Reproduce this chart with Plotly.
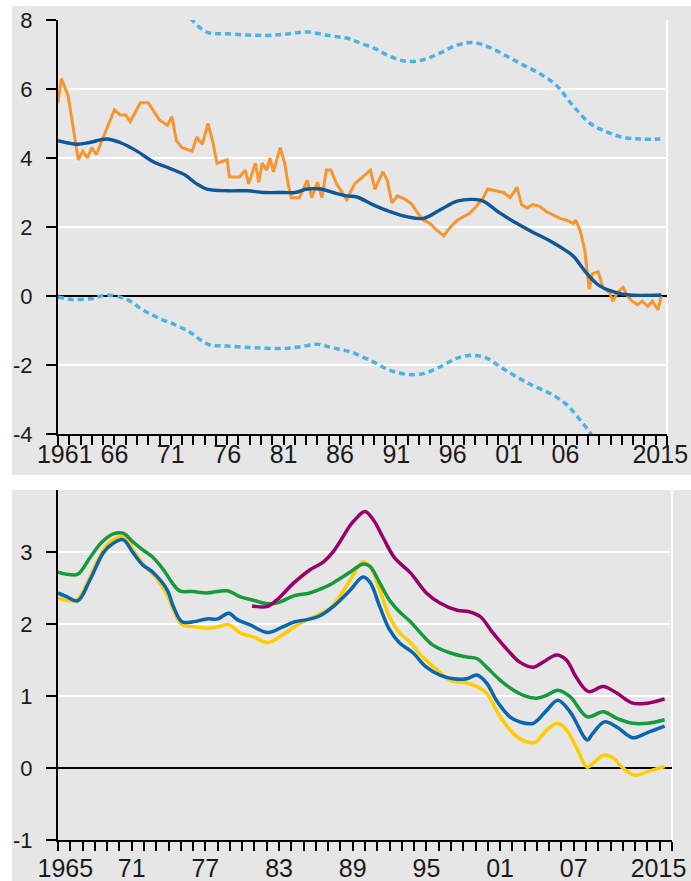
import plotly.graph_objects as go

# ---------------- Top panel data ----------------
orange_x = [1961.0, 1961.3, 1961.9, 1962.8, 1963.2, 1963.6, 1964.0, 1964.4, 1964.7, 1965.0,
            1966.0, 1966.5, 1967.0, 1967.4, 1968.3, 1969.0, 1969.4, 1970.0, 1970.7, 1971.1,
            1971.5, 1972.0, 1972.9, 1973.3, 1973.8, 1974.3, 1974.7, 1975.1, 1976.0, 1976.2,
            1977.1, 1977.6, 1977.9, 1978.5, 1978.8, 1979.1, 1979.5, 1979.8, 1980.1, 1980.7,
            1981.1, 1981.4, 1981.7, 1982.4, 1983.1, 1983.5, 1984.0, 1984.4, 1984.8, 1985.2,
            1985.7, 1986.6, 1987.3, 1987.7, 1988.2, 1988.7, 1989.1, 1989.8, 1990.2, 1990.6,
            1991.1, 1991.8, 1992.4, 1992.9, 1993.4, 1994.0, 1994.6, 1995.2, 1995.8, 1996.4,
            1997.0, 1997.5, 1998.1, 1998.7, 1999.1, 1999.9, 2000.5, 2001.1, 2001.7, 2002.1,
            2002.6, 2003.1, 2003.7, 2004.3, 2004.9, 2005.5, 2006.1, 2006.7, 2006.9, 2007.3,
            2007.7, 2007.9, 2008.1, 2008.4, 2008.9, 2009.3, 2009.9, 2010.2, 2010.6, 2011.1,
            2011.5, 2011.9, 2012.4, 2012.8, 2013.3, 2013.7, 2014.2, 2014.5]
orange_y = [5.6, 6.3, 5.8, 3.95, 4.2, 4.0, 4.3, 4.1, 4.35, 4.6,
            5.4, 5.25, 5.25, 5.05, 5.6, 5.6, 5.4, 5.1, 4.95, 5.2,
            4.5, 4.3, 4.2, 4.6, 4.4, 5.0, 4.5, 3.85, 3.95, 3.45,
            3.45, 3.65, 3.25, 3.85, 3.3, 3.85, 3.65, 4.0, 3.6, 4.3,
            3.85, 3.25, 2.85, 2.85, 3.35, 2.85, 3.3, 2.85, 3.65, 3.65,
            3.25, 2.8, 3.25, 3.35, 3.5, 3.65, 3.1, 3.6, 3.35, 2.7,
            2.9, 2.8, 2.65, 2.4, 2.2, 2.1, 1.9, 1.75, 2.0, 2.2,
            2.3, 2.4, 2.6, 2.85, 3.1, 3.05, 3.0, 2.85, 3.15, 2.65,
            2.55, 2.65, 2.6, 2.45, 2.35, 2.25, 2.2, 2.1, 2.2, 1.9,
            1.35, 0.75, 0.2, 0.65, 0.7, 0.25, 0.1, -0.15, 0.1, 0.25,
            0.0, -0.15, -0.25, -0.15, -0.3, -0.15, -0.4, 0.0]

trend_x = [1961, 1962.7, 1963.8, 1965.3, 1966.5, 1968, 1969.4, 1970.9, 1972.3, 1973.3,
           1974.2, 1976, 1977.8, 1979.2, 1981, 1982, 1983.1, 1984.3, 1985.4, 1986.6,
           1987.5, 1988.9, 1990.4, 1991.9, 1993.4, 1994.9, 1996.4, 1997.8, 1998.7, 2000.2,
           2001.7, 2003.1, 2004.6, 2006.1, 2006.7, 2007.9, 2009, 2010.5, 2011.7, 2014.5]
trend_y = [4.5, 4.4, 4.45, 4.55, 4.45, 4.2, 3.9, 3.7, 3.5, 3.25,
           3.1, 3.05, 3.05, 3.0, 3.0, 3.0, 3.1, 3.1, 3.0, 2.9,
           2.87, 2.65, 2.45, 2.3, 2.25, 2.5, 2.75, 2.8, 2.75, 2.4,
           2.1, 1.85, 1.6, 1.3, 1.15, 0.65, 0.3, 0.1, 0.03, 0.03]

upper_x = [1972.3, 1972.9, 1974.2, 1976, 1979.5, 1981.5, 1983.1, 1985, 1986.9, 1987.5,
           1988.9, 1990.4, 1991.9, 1993.4, 1994.9, 1996.4, 1997.8, 1999.3, 2000.8, 2002.2,
           2003.7, 2005.2, 2006.7, 2008.2, 2009.7, 2011.1, 2012.6, 2014.4]
upper_y = [8.3, 8.0, 7.65, 7.6, 7.55, 7.6, 7.65, 7.55, 7.45, 7.37,
           7.2, 6.95, 6.8, 6.85, 7.05, 7.27, 7.35, 7.2, 6.95, 6.7,
           6.45, 6.1, 5.5, 5.0, 4.75, 4.6, 4.55, 4.55]

lower_x = [1961, 1962.3, 1964.1, 1965.3, 1967.1, 1968.5, 1970, 1971.5, 1972.7, 1973.6,
           1974.5, 1976, 1978.3, 1981, 1982.5, 1984, 1985.3, 1986.9, 1988.9, 1990.4,
           1991.9, 1993.4, 1994.9, 1996.4, 1997.8, 1999, 2000.2, 2001.7, 2003.1, 2004.6,
           2006.1, 2007.3, 2008.2, 2008.8]
lower_y = [-0.03, -0.1, -0.07, 0.03, -0.1, -0.4, -0.65, -0.85, -1.05, -1.27,
           -1.42, -1.45, -1.5, -1.52, -1.47, -1.4, -1.5, -1.62, -1.9, -2.15,
           -2.27, -2.25, -2.05, -1.8, -1.72, -1.8, -2.05, -2.35, -2.6, -2.82,
           -3.15, -3.6, -3.97, -4.3]

top_tick_vals = [1961.6, 1966, 1971, 1976, 1981, 1986, 1991, 1996, 2001, 2006, 2014.4]
top_tick_text = ["1961", "66", "71", "76", "81", "86", "91", "96", "01", "06", "2015"]
top_y_ticks = [-4, -2, 0, 2, 4, 6, 8]
top_y_text = ["-4", "-2", "0", "2", "4", "6", "8"]

# ---------------- Bottom panel data ----------------
green_x = [1965, 1965.7, 1966.6, 1967.6, 1968.6, 1969.5, 1970.3, 1971.1, 1971.9, 1972.7,
           1973.6, 1974.3, 1974.9, 1976, 1977.1, 1978.8, 1979.8, 1980.9, 1982.1, 1983,
           1984.2, 1985.5, 1986.6, 1987.4, 1988.8, 1989.8, 1990.4, 1991.2, 1992, 1992.8,
           1993.7, 1994.5, 1995.5, 1996.9, 1998.3, 1999.1, 1999.9, 2001, 2002.1, 2003.2,
           2004, 2004.8, 2005.7, 2006.7, 2008.1, 2009.4, 2010.5, 2011.8, 2013, 2014.4]
green_y = [2.72, 2.69, 2.69, 2.92, 3.14, 3.25, 3.26, 3.14, 3.03, 2.93,
           2.75, 2.57, 2.46, 2.45, 2.43, 2.46, 2.38, 2.33, 2.28, 2.3,
           2.39, 2.43, 2.5, 2.57, 2.72, 2.83, 2.8, 2.57, 2.33, 2.17,
           2.03, 1.88, 1.71, 1.6, 1.54, 1.52, 1.4, 1.22, 1.08, 0.99,
           0.97, 1.01, 1.08, 0.99, 0.71, 0.78, 0.69, 0.62, 0.62, 0.67]

yellow_x = [1965, 1966.5, 1967.6, 1968.7, 1969.5, 1970.5, 1971.1, 1972.2, 1973, 1973.9,
            1974.4, 1975.1, 1976.2, 1977.2, 1978, 1978.9, 1979.8, 1980.9, 1982.1, 1983.3,
            1984.5, 1985.8, 1986.7, 1987.4, 1988.8, 1989.8, 1990.4, 1991.2, 1992, 1992.8,
            1993.7, 1994.7, 1995.9, 1996.9, 1998.3, 1999.1, 1999.9, 2000.7, 2001.6, 2002.4,
            2003.2, 2003.9, 2004.8, 2005.7, 2006.4, 2007.2, 2008.1, 2008.6, 2009.5, 2010.2,
            2011, 2012, 2013, 2014.4]
yellow_y = [2.36, 2.33, 2.65, 3.03, 3.17, 3.21, 3.03, 2.78, 2.64, 2.4,
            2.19, 1.99, 1.96, 1.94, 1.96, 1.99, 1.88, 1.82, 1.74, 1.85,
            1.99, 2.1, 2.17, 2.26, 2.61, 2.86, 2.8, 2.47, 2.1, 1.88,
            1.74, 1.54, 1.36, 1.22, 1.18, 1.13, 1.04, 0.8, 0.57, 0.43,
            0.36, 0.36, 0.53, 0.62, 0.53, 0.29, 0.01, 0.07, 0.18, 0.14,
            0.0, -0.1, -0.05, 0.02]

blue_x = [1965, 1965.7, 1966.6, 1967.6, 1968.7, 1969.5, 1970.3, 1971.1, 1971.9, 1972.7,
          1973.9, 1974.4, 1975.1, 1976, 1977.1, 1978, 1978.9, 1979.6, 1980.6, 1982.1,
          1983.3, 1984.3, 1985.3, 1986.3, 1987.4, 1988.8, 1989.8, 1990.4, 1991.2, 1992,
          1992.8, 1993.9, 1995, 1996.1, 1997.2, 1998.3, 1999.1, 1999.9, 2000.7, 2001.8,
          2002.6, 2003.7, 2004.8, 2005.7, 2006.7, 2008.1, 2008.5, 2009.5, 2010.5, 2011.8,
          2013, 2014.4]
blue_y = [2.43, 2.38, 2.32, 2.61, 2.99, 3.12, 3.17, 2.99, 2.82, 2.72,
          2.47, 2.24, 2.03, 2.03, 2.07, 2.07, 2.15, 2.06, 1.99, 1.88,
          1.96, 2.03, 2.06, 2.11, 2.24, 2.47, 2.65, 2.58, 2.24, 1.92,
          1.74, 1.6, 1.4, 1.29, 1.24, 1.24, 1.29, 1.18, 0.94, 0.71,
          0.64, 0.62, 0.8, 0.94, 0.78, 0.39, 0.47, 0.64, 0.57, 0.42,
          0.49, 0.58]

purple_x = [1980.8, 1982, 1982.8, 1984.2, 1985.5, 1986.6, 1987.4, 1988.8, 1989.2, 1990,
            1990.7, 1991.5, 1992.4, 1993.7, 1995, 1996.1, 1997.5, 1998.5, 1999.4, 2000.4,
            2001.6, 2002.6, 2003.7, 2004.5, 2005.6, 2006.4, 2007.2, 2008.2, 2009.4, 2010.5,
            2011.8, 2013, 2014.4]
purple_y = [2.25, 2.24, 2.33, 2.57, 2.75, 2.86, 3.0, 3.37, 3.45, 3.56,
            3.44, 3.19, 2.92, 2.71, 2.43, 2.29, 2.19, 2.17, 2.1, 1.88,
            1.64, 1.47, 1.4, 1.47, 1.57, 1.5, 1.26, 1.06, 1.13, 1.04,
            0.9, 0.9, 0.96]

bot_tick_vals = [1965.6, 1971, 1977, 1983, 1989, 1995, 2001, 2007, 2013.9]
bot_tick_text = ["1965", "71", "77", "83", "89", "95", "01", "07", "2015"]
bot_y_ticks = [-1, 0, 1, 2, 3]
bot_y_text = ["-1", "0", "1", "2", "3"]

# ---------------- Figure ----------------
W, H = 691, 881
GRAY = "#E6E6E6"
FONT = "Liberation Sans, Arial, sans-serif"

fig = go.Figure()

fig.add_trace(go.Scatter(x=upper_x, y=upper_y, mode="lines", xaxis="x", yaxis="y",
                         line=dict(color="#4CB2E6", width=3.5, dash="6px,4px", shape="spline")))
fig.add_trace(go.Scatter(x=lower_x, y=lower_y, mode="lines", xaxis="x", yaxis="y",
                         line=dict(color="#4CB2E6", width=3.5, dash="6px,4px", shape="spline")))
fig.add_trace(go.Scatter(x=orange_x, y=orange_y, mode="lines", xaxis="x", yaxis="y",
                         line=dict(color="#F7962F", width=3)))
fig.add_trace(go.Scatter(x=trend_x, y=trend_y, mode="lines", xaxis="x", yaxis="y",
                         line=dict(color="#0F5796", width=3.4, shape="spline")))

for xs, ys, col in [(yellow_x, yellow_y, "#FFCC00"), (green_x, green_y, "#169B3C"),
                    (blue_x, blue_y, "#0A66AE"), (purple_x, purple_y, "#98006A")]:
    fig.add_trace(go.Scatter(x=xs, y=ys, mode="lines", xaxis="x2", yaxis="y2",
                             line=dict(color=col, width=3.5, shape="spline")))

px_x0 = 58 / W
top_dom_y = [1 - 434 / H, 1 - 20 / H]
bot_dom_y = [1 - 840 / H, 1 - 490 / H]

def xaxis_cfg(domain, rng, tv, tt, t0, anchor, ticklen, standoff):
    return dict(domain=domain, range=rng, tickvals=tv, ticktext=tt, anchor=anchor,
                automargin=False,
                ticks="outside", ticklen=ticklen, tickcolor="rgba(0,0,0,0)",
                ticklabelstandoff=standoff,
                showline=True, linecolor="black", linewidth=2,
                showgrid=False, zeroline=False,
                tickfont=dict(family=FONT, size=25, color="#1a1a1a"),
                minor=dict(ticks="outside", ticklen=9, tickwidth=2, tickcolor="black",
                           tick0=t0, dtick=1, showgrid=False))

def yaxis_cfg(domain, rng, tv, tt, anchor):
    return dict(domain=domain, range=rng, tickvals=tv, ticktext=tt, anchor=anchor,
                automargin=False,
                ticks="outside", ticklen=10, tickwidth=2, tickcolor="black",
                showline=True, linecolor="black", linewidth=2,
                showgrid=True, gridcolor="white", gridwidth=2,
                zeroline=True, zerolinecolor="black", zerolinewidth=2,
                ticklabelstandoff=9,
                tickfont=dict(family=FONT, size=22, color="#1a1a1a"))

fig.update_layout(
    width=W, height=H,
    margin=dict(l=0, r=0, t=0, b=0),
    paper_bgcolor="white", plot_bgcolor=GRAY,
    showlegend=False,
    xaxis=xaxis_cfg([px_x0, 667 / W], [1961, 2015], top_tick_vals, top_tick_text, 1961, "y", 4, -7),
    yaxis=yaxis_cfg(top_dom_y, [-4, 8], top_y_ticks, top_y_text, "x"),
    xaxis2=xaxis_cfg([px_x0, 672 / W], [1965, 2015], bot_tick_vals, bot_tick_text, 1965, "y2", 9, -4),
    yaxis2=yaxis_cfg(bot_dom_y, [-1, 3.86], bot_y_ticks, bot_y_text, "x2"),
    shapes=[
        dict(type="rect", xref="paper", yref="paper", x0=12 / W, x1=1,
             y0=1 - 475 / H, y1=1 - 6 / H, fillcolor=GRAY, line=dict(width=0), layer="below"),
        dict(type="rect", xref="paper", yref="paper", x0=12 / W, x1=1,
             y0=0, y1=1 - 490 / H, fillcolor=GRAY, line=dict(width=0), layer="below"),
        dict(type="line", xref="x domain", yref="y domain", x0=1, x1=1, y0=0, y1=1,
             line=dict(color="white", width=2), layer="below"),
        dict(type="line", xref="x2 domain", yref="y2 domain", x0=1, x1=1, y0=0, y1=1,
             line=dict(color="white", width=2), layer="below"),
    ],
)

fig.write_html("out.html", config={"displayModeBar": False},
               post_script="document.body.style.margin='0px';")
